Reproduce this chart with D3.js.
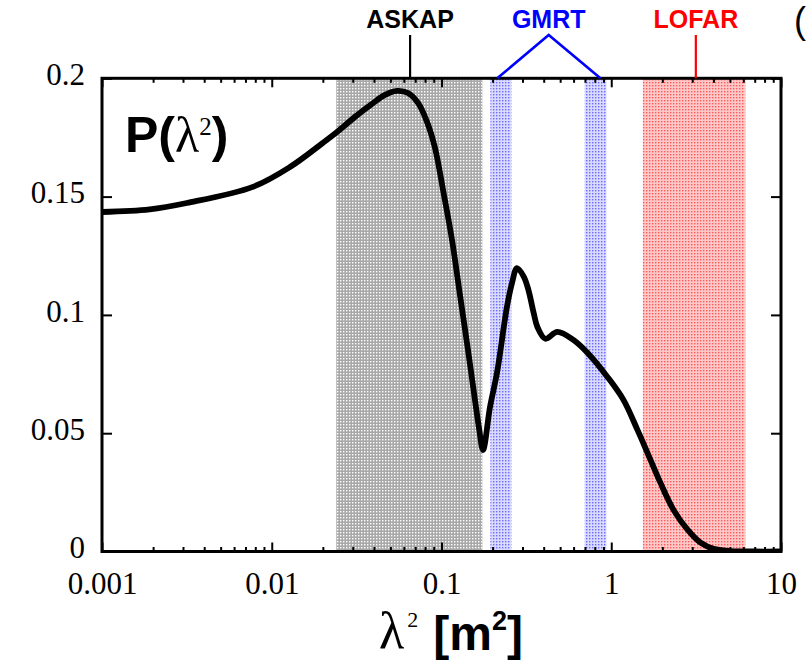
<!DOCTYPE html>
<html>
<head>
<meta charset="utf-8">
<script src="https://cdn.jsdelivr.net/npm/d3@7"></script>
<style>
  body { margin: 0; background: #fff; }
  svg { display: block; }
</style>
</head>
<body>
<svg id="chart" width="807" height="666"></svg>
<script>
// Polarised fraction P as a function of lambda^2 [m^2]
const lambda2 = [0.001, 0.00191, 0.00316, 0.00774, 0.0128, 0.0200, 0.02423, 0.03093, 0.03897, 0.04647,
  0.05467, 0.06349, 0.07271, 0.08215, 0.09155, 0.1021, 0.1153, 0.1285, 0.1432, 0.1575,
  0.1663, 0.1756, 0.1931, 0.2123, 0.2430, 0.2602, 0.2784, 0.3051, 0.3250, 0.3495,
  0.3673, 0.4094, 0.4811, 0.5979, 0.7238, 0.9493, 1.180, 1.427, 1.635, 1.950,
  2.327, 2.815, 3.358, 4.007, 5.05, 7.0, 10];
const polarization = [0.1435, 0.1446, 0.1473, 0.1541, 0.1625, 0.1727, 0.1773, 0.1837, 0.1892, 0.1930,
  0.1947, 0.1938, 0.1896, 0.1816, 0.1706, 0.1528, 0.1317, 0.1084, 0.0852, 0.0640,
  0.0522, 0.0429, 0.0611, 0.0755, 0.1034, 0.1135, 0.1198, 0.1162, 0.1106, 0.1007,
  0.0949, 0.0899, 0.0928, 0.0894, 0.0840, 0.0738, 0.0641, 0.0514, 0.0417, 0.0290,
  0.0176, 0.0092, 0.0037, 0.0011, 0.0002, 0.0, 0.0];

// Telescope coverage in lambda^2
const bandTelescope = ["ASKAP", "GMRT", "GMRT", "LOFAR"];
const bandLow = [0.0240, 0.194, 0.697, 1.535];
const bandHigh = [0.174, 0.258, 0.937, 6.17];

// Labels above the frame
const labelNames = ["ASKAP", "GMRT", "LOFAR"];
const labelColors = ["#000000", "#0000ff", "#ff0000"];
const labelAt = [0.0653, 0.428, 3.15];
const gmrtLegs = [0.2131, 0.8636];

// Axis ticks
const xTicks = [0.001, 0.01, 0.1, 1, 10];
const xTickLabels = ["0.001", "0.01", "0.1", "1", "10"];
const yTicks = [0, 0.05, 0.1, 0.15, 0.2];
const yTickLabels = ["0", "0.05", "0.1", "0.15", "0.2"];

const svg = d3.select("#chart");
const plotLeft = 102, plotRight = 781, plotTop = 78.3, plotBottom = 551.5;

const x = d3.scaleLog().domain([0.001, 10]).range([plotLeft, plotRight]);
const y = d3.scaleLinear().domain([0, 0.2]).range([plotBottom, plotTop]);

// dotted half-tone fills for the bands
const defs = svg.append("defs");
const fills = {
  ASKAP: { bg: "#a8a8a8", dot: "#ffffff" },
  GMRT: { bg: "#dadaff", dot: "#6a6aff" },
  LOFAR: { bg: "#ffc8c8", dot: "#ff5a5a" }
};
Object.entries(fills).forEach(([name, f]) => {
  const p = defs.append("pattern")
    .attr("id", "pat-" + name)
    .attr("patternUnits", "userSpaceOnUse")
    .attr("width", 3).attr("height", 3);
  p.append("rect").attr("width", 3).attr("height", 3).attr("fill", f.bg);
  p.append("rect").attr("x", 1).attr("y", 1).attr("width", 1.4).attr("height", 1.4).attr("fill", f.dot);
});

defs.append("clipPath").attr("id", "plot-clip")
  .append("rect").attr("x", plotLeft).attr("y", plotTop)
  .attr("width", plotRight - plotLeft).attr("height", plotBottom - plotTop);

const plot = svg.append("g").attr("clip-path", "url(#plot-clip)");

plot.selectAll("rect.band")
  .data(bandTelescope.map((t, i) => ({ t, lo: bandLow[i], hi: bandHigh[i] })))
  .join("rect")
  .attr("class", "band")
  .attr("x", d => x(d.lo))
  .attr("width", d => x(d.hi) - x(d.lo))
  .attr("y", plotTop)
  .attr("height", plotBottom - plotTop)
  .attr("fill", d => `url(#pat-${d.t})`);

// the P(lambda^2) curve
const line = d3.line()
  .x((d, i) => x(lambda2[i]))
  .y(d => y(d))
  .curve(d3.curveCatmullRom.alpha(0.5));

plot.append("path")
  .datum(polarization)
  .attr("d", line)
  .attr("fill", "none")
  .attr("stroke", "#000")
  .attr("stroke-width", 5.8)
  .attr("stroke-linejoin", "round")
  .attr("stroke-linecap", "round");

// axes with inward ticks on all four sides
const minorX = [];
for (let e = -3; e < 1; e++) for (let m = 2; m <= 9; m++) minorX.push(m * Math.pow(10, e));

function styleAxis(g) {
  g.select(".domain").remove();
  g.selectAll(".tick line").attr("stroke", "#000").attr("stroke-width", 2);
  g.selectAll(".tick text")
    .attr("font-family", "'Liberation Serif', 'Times New Roman', serif")
    .attr("font-size", 31)
    .attr("fill", "#000");
}

svg.append("g").attr("transform", `translate(0,${plotBottom})`)
  .call(d3.axisBottom(x).tickValues(xTicks).tickFormat((d, i) => xTickLabels[i])
    .tickSizeInner(-9).tickSizeOuter(0).tickPadding(20))
  .call(styleAxis);
svg.append("g").attr("transform", `translate(0,${plotBottom})`)
  .call(d3.axisBottom(x).tickValues(minorX).tickFormat("").tickSizeInner(-4.5).tickSizeOuter(0))
  .call(styleAxis);
svg.append("g").attr("transform", `translate(0,${plotTop})`)
  .call(d3.axisTop(x).tickValues(xTicks).tickFormat("").tickSizeInner(-9).tickSizeOuter(0))
  .call(styleAxis);
svg.append("g").attr("transform", `translate(0,${plotTop})`)
  .call(d3.axisTop(x).tickValues(minorX).tickFormat("").tickSizeInner(-4.5).tickSizeOuter(0))
  .call(styleAxis);
svg.append("g").attr("transform", `translate(${plotLeft},0)`)
  .call(d3.axisLeft(y).tickValues(yTicks).tickFormat((d, i) => yTickLabels[i])
    .tickSizeInner(-10).tickSizeOuter(0).tickPadding(17))
  .call(styleAxis)
  .call(g => g.selectAll(".tick text").attr("dy", "0.2em"));
svg.append("g").attr("transform", `translate(${plotRight},0)`)
  .call(d3.axisRight(y).tickValues(yTicks).tickFormat("").tickSizeInner(-10).tickSizeOuter(0))
  .call(styleAxis);

// frame
svg.append("rect")
  .attr("x", plotLeft).attr("y", plotTop)
  .attr("width", plotRight - plotLeft).attr("height", plotBottom - plotTop)
  .attr("fill", "none").attr("stroke", "#000").attr("stroke-width", 3);

// telescope labels and pointers
const labelBase = 28, pointerTop = 35;
labelNames.forEach((name, i) => {
  svg.append("text")
    .attr("x", x(labelAt[i])).attr("y", labelBase)
    .attr("text-anchor", "middle")
    .attr("font-family", "'Liberation Sans', Arial, sans-serif")
    .attr("font-weight", "bold").attr("font-size", 25)
    .attr("fill", labelColors[i])
    .text(name);
});
svg.append("line")
  .attr("x1", x(labelAt[0])).attr("x2", x(labelAt[0]))
  .attr("y1", pointerTop).attr("y2", plotTop)
  .attr("stroke", labelColors[0]).attr("stroke-width", 2.2);
svg.append("line")
  .attr("x1", x(labelAt[2])).attr("x2", x(labelAt[2]))
  .attr("y1", pointerTop).attr("y2", plotTop)
  .attr("stroke", labelColors[2]).attr("stroke-width", 2.2);
svg.append("polyline")
  .attr("points", [[x(gmrtLegs[0]), plotTop], [x(labelAt[1]), pointerTop], [x(gmrtLegs[1]), plotTop]].map(p => p.join(",")).join(" "))
  .attr("fill", "none").attr("stroke", labelColors[1]).attr("stroke-width", 2.6);

// panel title P(lambda^2)
const title = svg.append("text").attr("x", 125).attr("y", 152).attr("fill", "#000");
title.append("tspan").attr("font-family", "'Liberation Sans', Arial, sans-serif")
  .attr("font-weight", "bold").attr("font-size", 50).text("P(");
title.append("tspan").attr("font-family", "'Liberation Serif', 'Times New Roman', serif")
  .attr("font-size", 50).text("λ");
title.append("tspan").attr("font-family", "'Liberation Serif', 'Times New Roman', serif")
  .attr("font-size", 25).attr("dy", -17).text("2");
title.append("tspan").attr("font-family", "'Liberation Sans', Arial, sans-serif")
  .attr("font-weight", "bold").attr("font-size", 50).attr("dy", 17).text(")");

// x-axis title
const xt = svg.append("text").attr("x", 379).attr("y", 648).attr("fill", "#000");
xt.append("tspan").attr("font-family", "'Liberation Serif', 'Times New Roman', serif")
  .attr("font-size", 52).text("λ");
xt.append("tspan").attr("font-family", "'Liberation Serif', 'Times New Roman', serif")
  .attr("font-size", 22).attr("dy", -21).attr("dx", 3).text("2");
xt.append("tspan").attr("font-family", "'Liberation Sans', Arial, sans-serif")
  .attr("font-weight", "bold").attr("font-size", 48).attr("dy", 23).attr("dx", 15).text("[m");
xt.append("tspan").attr("font-family", "'Liberation Sans', Arial, sans-serif")
  .attr("font-weight", "bold").attr("font-size", 27).attr("dy", -20).text("2");
xt.append("tspan").attr("font-family", "'Liberation Sans', Arial, sans-serif")
  .attr("font-weight", "bold").attr("font-size", 48).attr("dy", 20).text("]");

// panel marker at the top-right edge
svg.append("text")
  .attr("x", 794).attr("y", 33)
  .attr("font-family", "'Liberation Sans', Arial, sans-serif")
  .attr("font-size", 36).attr("fill", "#000")
  .text("(");
</script>
</body>
</html>
